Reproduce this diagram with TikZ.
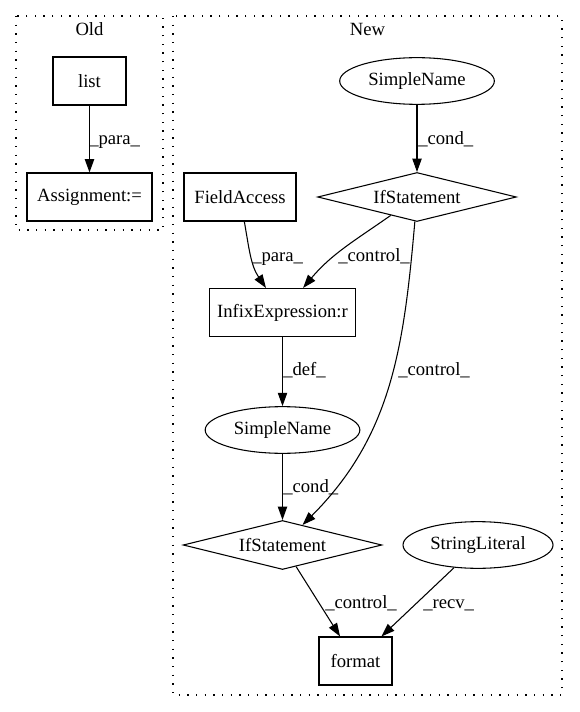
\documentclass[tikz,border=0pt]{standalone}
\usepackage{fontspec}
\setmainfont{Liberation Serif}
\usetikzlibrary{shapes.geometric,arrows.meta}
\begin{document}
\begin{tikzpicture}[x=0.75pt,y=-0.75pt,
 every node/.style={font=\fontsize{14pt}{16pt}\selectfont, inner sep=0pt},
 box/.style={draw, rectangle, minimum height=36pt, line width=0.8pt},
 oval/.style={draw, ellipse, minimum width=116pt, minimum height=35pt, line width=0.8pt},
 dia/.style={draw, diamond, aspect=4, minimum width=149pt, minimum height=36.75pt, line width=0.8pt},
 edge/.style={line width=0.8pt, -{Triangle[length=10pt,width=7pt]}},
 lab/.style={anchor=base west},
 cluster/.style={draw, line width=0.8pt, dash pattern=on 1pt off 5.5pt}
]
\useasboundingbox (0,0) rectangle (580,712);
\draw[cluster] (16,16) rectangle (163,230);
\draw[cluster] (173,16) rectangle (562,695);
\node[anchor=base] (oldlab) at (89.5,36) {Old};
\node[anchor=base] (newlab) at (367.5,36) {New};
\node[box, minimum width=54.75pt] (list) at (89.5,81) {list};
\node[box, minimum width=93.75pt] (asg) at (89.5,197) {Assignment:=};
\node[oval] (sn1) at (417,81) {SimpleName};
\node[dia] (if1) at (417,197) {IfStatement};
\node[box, minimum width=84pt] (fa) at (240,197) {FieldAccess};
\node[box, minimum width=110pt] (ix) at (282.5,312.5) {InfixExpression:r};
\node[oval] (sn2) at (282.5,430) {SimpleName};
\node[dia] (if2) at (282.5,545) {IfStatement};
\node[oval, minimum width=112.5pt] (sl) at (478,545) {StringLiteral};
\node[box, minimum width=54.75pt] (fmt) at (355.5,661) {format};
\draw[edge] (list) -- (asg);
\draw[edge] (sn1) -- (if1);
\draw[edge] (fa) to[out=-80,in=124] (ix);
\draw[edge] (if1) to[out=-145,in=50] (ix);
\draw[edge] (if1) to[out=-95,in=45] (if2);
\draw[edge] (ix) -- (sn2);
\draw[edge] (sn2) -- (if2);
\draw[edge] (if2) -- (fmt);
\draw[edge] (sl) -- (fmt);
\node[lab] (l1) at (89,145) {\_para\_};
\node[lab] (l2) at (418,145) {\_cond\_};
\node[lab] (l3) at (252,262) {\_para\_};
\node[lab] (l4) at (338,262) {\_control\_};
\node[lab] (l5) at (283,375) {\_def\_};
\node[lab] (l6) at (398,375) {\_control\_};
\node[lab] (l7) at (283,492) {\_cond\_};
\node[lab] (l8) at (325,608) {\_control\_};
\node[lab] (l9) at (423,608) {\_recv\_};
\end{tikzpicture}
\end{document}
